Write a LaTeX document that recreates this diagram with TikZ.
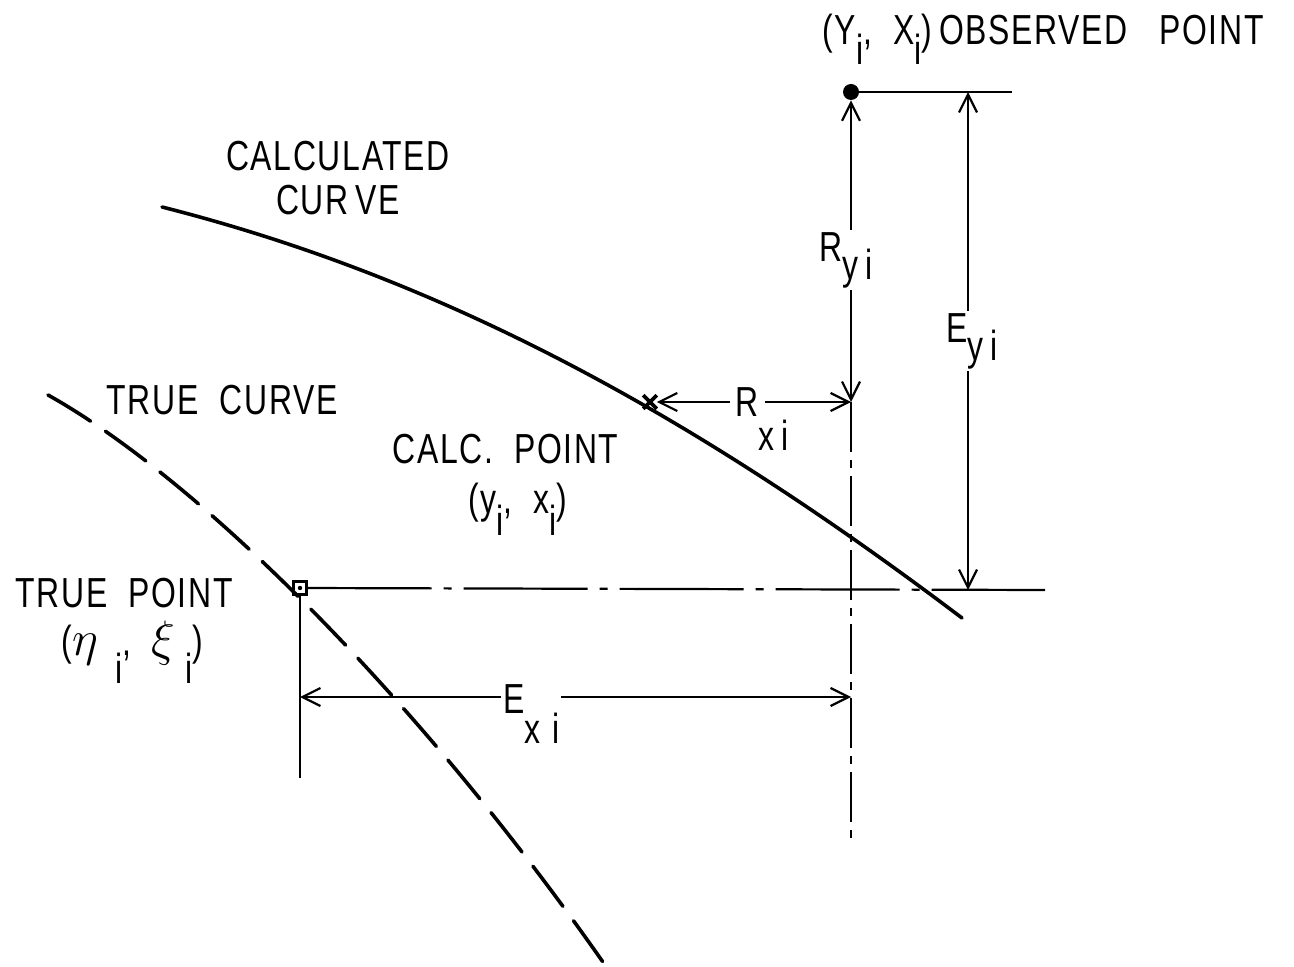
\documentclass[tikz,border=0pt]{standalone}
\usepackage{fontspec}
\setmainfont{Liberation Sans}[FakeStretch=0.76,LetterSpace=4]
\usetikzlibrary{arrows.meta,shapes.misc}
\newcommand{\sub}[2][9pt]{\raisebox{-#1}{#2}}
\newcommand{\grk}[1]{{\fontsize{28}{28}\selectfont$#1$}}

\begin{document}
\begin{tikzpicture}[
      x=0.5pt, y=-0.5pt,
      >={Straight Barb[length=9pt,width=9pt]},
      every node/.style={font=\fontsize{21}{22}\selectfont},
      thin/.style={line width=1.1pt},
      dim/.style={thin, <->},
      curve/.style={line width=1.8pt, line cap=round},
      truecurve/.style={curve, dash pattern=on 25pt off 9pt},
      chain/.style={thin, dash pattern=on 62pt off 6pt on 4pt off 6pt},
      vchain/.style={thin, dash pattern=on 25pt off 4pt on 4pt off 4pt},
      lbl/.style={fill=white, inner sep=1pt},
      txt/.style={align=center, inner sep=0pt},
      txtl/.style={align=left, inner sep=0pt}
    ]
    \useasboundingbox (0,0) rectangle (1294,967);
    % points
    \node[circle, fill, inner sep=0pt, minimum size=8pt] (obs) at (851,92) {};
    \node[draw, line width=1.1pt, inner sep=0pt, minimum size=6.5pt] (truept) at (300,588) {};
    \fill (truept.center) circle (1.1pt);
    \node[cross out, draw, line width=1.8pt, inner sep=0pt, minimum size=5pt] (calcpt) at (650,402) {};
    \coordinate (obsend) at (1012,92);
    \coordinate (eytop) at (968,92);
    \coordinate (eybot) at (968,590);
    \coordinate (rxend) at (851,402);
    \coordinate (vbot) at (851,840);
    \coordinate (hend) at (1045,590);
    \coordinate (tpbot) at (300,778);
    \coordinate (exleft) at (300,697);
    \coordinate (exright) at (851,697);
    % curves
    \draw[curve] (162,207) .. controls (450,280) and (700,420) .. (962,618);
    \draw[truecurve] (48,395) .. controls (200,480) and (420,700) .. (605,965);
    % reference lines
    \draw[thin] (obs) -- (obsend);
    \draw[vchain] (rxend) -- (vbot);
    \draw[chain] (truept) -- (hend);
    \draw[thin] (truept) -- (tpbot);
    % residuals and errors
    \draw[dim] (obs) -- node[lbl, pos=0.53, xshift=-2.5pt] (rylabel) {R\sub{y\,i}} (rxend);
    \draw[dim] (calcpt) -- node[lbl, pos=0.466, inner xsep=3pt]
      (rxlabel) {R\rlap{\smash{\sub[17pt]{x\,i}}}\hspace{12pt}} (rxend);
    \draw[dim] (eytop) -- node[lbl, pos=0.5, xshift=2pt] (eylabel) {E\sub{y\,i}} (eybot);
    \draw[dim] (exleft) -- node[lbl, pos=0.42, yshift=-8.5pt] (exlabel) {E\sub[15pt]{x\;i}} (exright);
    % texts
    \node[txt] (calclabel) at (338,178) {CALCULATED\\CUR\,VE};
    \node[txt] (truelabel) at (222,400) {TRUE\ \ CURVE};
    \node[txtl, anchor=north west] (calcptlabel) at (392,434)
      {CALC.\ \ POINT\\[3pt]\hspace*{38pt}(y\sub[11pt]{i},\ \ x\sub[11pt]{i})};
    \node[txtl, anchor=north west] (trueptlabel) at (15,578)
      {TRUE\ \ POINT\\[2pt]\hspace*{23pt}(\grk{\eta}\hspace{9pt}\sub[14pt]{i},\hspace{10pt}\grk{\xi}\hspace{5pt}\sub[14pt]{i})};
    \node[txtl, anchor=north west] (obslabel) at (822,14)
      {(Y\sub[10pt]{i}, \ X\sub[10pt]{i})\,OBSERVED\ \ \ POINT};
  \end{tikzpicture}
\end{document}
